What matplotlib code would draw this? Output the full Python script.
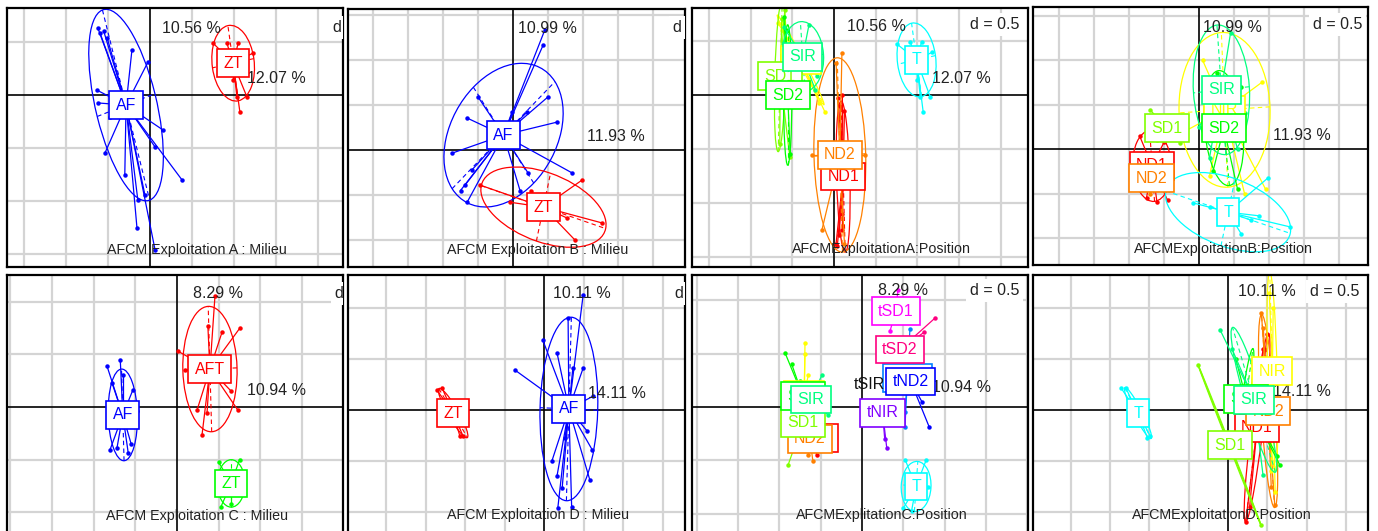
import numpy as np
import matplotlib
matplotlib.use("Agg")
import matplotlib.pyplot as plt
from matplotlib.patches import Ellipse

plt.rcParams["font.family"] = ["Liberation Sans", "DejaVu Sans"]

# ---- colours (R rainbow palette used by ade4 s.class) ----
RED, ORANGE, YELLOW, CHART = "#FF0000", "#FF8000", "#FFFF00", "#80FF00"
GREEN, SPRING, CYAN, AZURE = "#00FF00", "#00FF80", "#00FFFF", "#0080FF"
BLUE, VIOLET, MAGENTA, ROSE = "#0000FF", "#8000FF", "#FF00FF", "#FF0080"

# ---- Exploitation A : Milieu ----
A_MIL_LABELS = ["AF", "ZT"]
A_MIL_CX = [-0.57, 1.98]
A_MIL_CY = [-0.19, 0.60]
A_MIL_A = [1.88, 0.72]
A_MIL_B = [0.72, 0.50]
A_MIL_ANG = [-72.6, 100]
A_MIL_PX = [[-1.24, -1.19, -1.02, -0.43, -0.05, -1.26, -1.24, -1.07, 0.31, 0.12, 0.76,
             -0.31, 0.12, -0.95, -0.29, -0.12, -1.10, -0.60],
            [1.50, 1.83, 2.10, 2.45, 2.07, 2.14, 2.31, 1.98]]
A_MIL_PY = [[1.26, 1.17, 1.08, 0.85, 0.62, 0.09, -0.15, -1.09, -0.66, -0.98, -1.60,
             -2.51, -2.92, -0.42, -1.98, -1.89, 1.20, -1.50],
            [0.98, 0.98, 0.98, 0.79, -0.04, -0.32, -0.04, 0.28]]

# ---- Exploitation B : Milieu ----
B_MIL_LABELS = ["AF", "ZT"]
B_MIL_CX = [-0.27, 0.87]
B_MIL_CY = [0.33, -1.27]
B_MIL_A = [1.89, 1.84]
B_MIL_B = [1.37, 0.78]
B_MIL_ANG = [39, -15]
B_MIL_PX = [[0.91, 0.86, -1.31, 1.26, -1.74, -1.37, -1.31, 1.69, 1.00, 0.40, -1.00, -1.17,
             0.43, -0.03, -1.50, 0.20],
            [-0.94, -0.09, 1.97, 1.77, 1.54, 1.29, 2.54, 0.50]]
B_MIL_PY = [[2.67, 2.33, 0.71, 0.62, -0.07, -0.78, -1.16, -0.51, 1.18, 0.84, 1.18, -0.44,
             -0.51, 0.84, -0.90, -0.90],
            [-0.78, -1.16, -0.67, -2.00, -1.51, -1.40, -1.62, -0.90]]

# ---- Exploitation A : Position ----
A_POS_LABELS = ["ND1", "ND2", "NIR", "SD1", "SD2", "SIR", "T"]
A_POS_CX = [0.22, 0.14, -0.80, -1.29, -1.11, -0.75, 1.98]
A_POS_CY = [-1.51, -1.11, 0.65, 0.35, 0.00, 0.71, 0.65]
A_POS_A = [1.40, 1.80, 1.00, 1.40, 1.30, 0.65, 0.69]
A_POS_B = [0.16, 0.62, 0.06, 0.13, 0.10, 0.50, 0.46]
A_POS_ANG = [92, 92, -56, 88, 90, 95, 100]
A_POS_PX = [[0.10, 0.15, 0.20, 0.25, 0.05, 0.12, 0.20, 0.08, 0.18],
            [0.19, -0.29, -0.53, 0.74, 0.05, 0.25],
            [-1.34, -1.25, -0.22, -0.35],
            [-1.18, -1.06, -1.25, -1.30],
            [-1.20, -1.05, -1.15],
            [-1.20, -0.45, -0.40, -1.10, -0.60],
            [1.50, 1.83, 2.10, 2.35, 2.07, 2.14, 2.31, 1.98]]
A_POS_PY = [[-0.05, -0.20, 0.00, -0.30, -2.75, -2.60, -2.50, -2.80, -2.20],
            [0.78, -2.50, -1.11, -1.11, 0.60, -2.75],
            [1.33, 1.20, -0.31, -0.15],
            [1.57, -1.15, 1.40, -0.90],
            [1.45, -1.10, 1.20],
            [1.25, 0.10, 0.35, 0.20, 1.30],
            [0.95, 0.98, 0.98, 0.79, -0.04, -0.32, -0.04, 0.28]]

# ---- Exploitation B : Position ----
B_POS_LABELS = ["ND1", "ND2", "NIR", "SD1", "SD2", "SIR", "T"]
B_POS_CX = [-1.34, -1.36, 0.73, -0.91, 0.71, 0.64, 0.83]
B_POS_CY = [-0.38, -0.66, 0.88, 0.47, 0.47, 1.33, -1.42]
B_POS_A = [0.80, 0.30, 1.74, 0.45, 1.30, 1.46, 1.84]
B_POS_B = [0.55, 0.20, 1.30, 0.12, 0.55, 0.80, 0.78]
B_POS_ANG = [95, 90, 93, 40, 97, 95, -15]
B_POS_PX = [[-1.70, -1.20, -0.90, -1.50, -1.00, -1.80],
            [-1.60, -1.10, -1.40],
            [0.10, 1.80, 1.90, -0.40, 0.30, 1.30],
            [-1.40, -0.54, -1.20, -0.70],
            [0.50, 1.10, 0.40, 1.20, 0.20],
            [0.90, 0.75, 0.00, 1.30, 0.30, 1.10],
            [1.97, -0.17, 2.60, 1.49, 1.20, 0.30, 1.70]]
B_POS_PY = [[0.30, -1.20, -1.15, -1.10, 0.15, -0.50],
            [-0.90, -0.50, -1.00],
            [2.00, 1.50, -0.90, 0.40, -0.60, -1.00],
            [0.88, 0.13, 0.20, 0.30],
            [1.70, -0.90, -0.50, 1.40, 0.20],
            [2.60, 1.50, 0.50, 0.80, -0.20, 0.00],
            [-0.65, -1.21, -1.75, -1.60, -1.90, -1.30, -1.50]]

# ---- Exploitation C : Milieu ----
C_MIL_LABELS = ["AF", "AFT", "ZT"]
C_MIL_CX = [-1.30, 0.79, 1.30]
C_MIL_CY = [-0.15, 0.72, -1.45]
C_MIL_A = [0.87, 1.19, 0.45]
C_MIL_B = [0.35, 0.65, 0.33]
C_MIL_ANG = [92, 92, 90]
C_MIL_PX = [[-1.68, -1.36, -1.56, -1.06, -1.61, -1.44, -1.17, -0.96, -1.30, -1.10],
            [0.91, 0.74, 1.51, 0.02, 0.48, 0.60, 1.46, 1.08, 0.72, 0.20, 1.30],
            [1.00, 1.50, 1.60, 1.05, 1.30]]
C_MIL_PY = [[0.78, 0.89, 0.46, 0.32, -0.82, -0.78, -0.87, -0.08, 0.60, -0.70],
            [2.10, 1.54, 1.50, 1.06, -0.06, -0.53, -0.06, 1.42, -0.11, 0.70, 0.30],
            [-1.05, -1.00, -1.30, -1.90, -1.85]]

# ---- Exploitation D : Milieu ----
D_MIL_LABELS = ["AF", "ZT"]
D_MIL_CX = [0.63, -2.30]
D_MIL_CY = [0.02, -0.06]
D_MIL_A = [1.80, 0.60]
D_MIL_B = [0.73, 0.12]
D_MIL_ANG = [88, -53]
D_MIL_PX = [[0.99, -0.73, -0.03, 0.33, 0.99, 0.73, 1.22, 1.16, 1.09, 0.33, 0.46, 0.35,
             0.61, 1.24, 0.53, 0.70, 0.20],
            [-2.71, -2.58, -2.05, -2.13]]
D_MIL_PY = [[2.25, 0.78, 1.37, 1.12, 0.82, 0.82, -0.78, -1.37, -0.41, -1.29, -1.53, -1.92,
             1.80, 0.27, -0.55, -1.90, -1.00],
            [0.39, 0.43, -0.51, -0.51]]

# ---- Exploitation C : Position ----
C_POS_LABELS = ["ND1", "ND2", "NIR", "SD1", "SD2", "SIR", "T",
                "tND1", "tND2", "tNIR", "tSD1", "tSD2", "tSIR"]
C_POS_CX = [-1.13, -1.26, -1.40, -1.43, -1.43, -1.24, 1.31, 1.10, 1.18, 0.50, 0.82, 0.92, 0.19]
C_POS_CY = [-0.58, -0.60, 0.22, -0.30, 0.20, 0.14, -1.49, 0.55, 0.48, -0.11, 1.80, 1.08, 0.42]
C_POS_A = [0.10, 0.10, 0.10, 0.10, 0.10, 0.10, 0.47, 0.10, 0.10, 0.10, 0.10, 0.10, 0.0]
C_POS_B = [0.04, 0.04, 0.04, 0.04, 0.04, 0.04, 0.36, 0.04, 0.04, 0.04, 0.04, 0.04, 0.0]
C_POS_ANG = [90, 90, 90, 90, 90, 90, 85, 90, 90, 90, 90, 90, 90]
C_POS_PX = [[-1.00, -1.10], [-1.19, -1.30], [-1.38, -1.38, -1.30], [-1.79, -1.60],
            [-1.86, -1.70, -1.50], [-0.97, -0.82], [1.05, 1.55, 1.60, 1.00, 1.20],
            [1.04, 1.04, 1.16], [1.63, 1.45], [0.60, 0.55], [0.68, 0.87], [1.77, 1.50], [0.19]]
C_POS_PY = [[-0.40, -0.90], [-1.01, -0.90], [1.20, 1.00, 0.60], [-1.09, -0.80],
            [1.01, 0.80, 0.49], [0.60, -0.15], [-1.00, -1.00, -1.50, -1.90, -1.95],
            [-0.38, -0.10, 1.46], [-0.38, 0.10], [-0.77, -0.60], [1.43, 2.20], [1.67, 1.40], [0.42]]

# ---- Exploitation D : Position ----
D_POS_LABELS = ["ND1", "ND2", "NIR", "SD1", "SD2", "SIR", "T"]
D_POS_CX = [0.74, 1.02, 1.13, 0.04, 0.46, 0.66, -2.29]
D_POS_CY = [-0.35, -0.02, 0.76, -0.69, 0.22, 0.20, -0.06]
D_POS_A = [1.87, 1.90, 1.95, 1.75, 1.00, 1.52, 0.60]
D_POS_B = [0.15, 0.18, 0.12, 0.02, 0.10, 0.22, 0.10]
D_POS_ANG = [81, 95, 92, -63, 80, 111, -56]
D_POS_PX = [[1.00, 0.90, 0.45, 0.55], [0.85, 0.90, 1.19, 1.10], [1.05, 1.15, 1.20, 1.10],
            [-0.76, 0.84], [1.32, 0.20, 1.25], [-0.20, 0.89, 0.10, 0.50],
            [-2.72, -2.60, -1.98, -2.05]]
D_POS_PY = [[1.50, 1.20, -2.20, -1.90], [1.90, 1.60, -1.87, -1.50], [2.30, 2.00, -1.60, -1.20],
            [0.88, -2.25], [-1.08, 1.00, -0.90], [1.57, -1.27, 1.20, -0.90],
            [0.43, 0.43, -0.51, -0.55]]

PCT_TOP = ["10.56 %", "10.99 %", "10.56 %", "10.99 %", "8.29 %", "10.11 %", "8.29 %", "10.11 %"]
PCT_RIGHT = ["12.07 %", "11.93 %", "12.07 %", "11.93 %", "10.94 %", "14.11 %", "10.94 %", "14.11 %"]
SUBTITLES = ["AFCM Exploitation A : Milieu", "AFCM Exploitation B : Milieu",
             "AFCMExploitationA:Position", "AFCMExploitationB:Position",
             "AFCM Exploitation C : Milieu", "AFCM Exploitation D : Milieu",
             "AFCMExplitationC:Position", "AFCMExploitationD:Position"]

PANELS = [
    (A_MIL_LABELS, [BLUE, RED], A_MIL_CX, A_MIL_CY, A_MIL_A, A_MIL_B, A_MIL_ANG, A_MIL_PX, A_MIL_PY),
    (B_MIL_LABELS, [BLUE, RED], B_MIL_CX, B_MIL_CY, B_MIL_A, B_MIL_B, B_MIL_ANG, B_MIL_PX, B_MIL_PY),
    (A_POS_LABELS, [RED, ORANGE, YELLOW, CHART, GREEN, SPRING, CYAN],
     A_POS_CX, A_POS_CY, A_POS_A, A_POS_B, A_POS_ANG, A_POS_PX, A_POS_PY),
    (B_POS_LABELS, [RED, ORANGE, YELLOW, CHART, GREEN, SPRING, CYAN],
     B_POS_CX, B_POS_CY, B_POS_A, B_POS_B, B_POS_ANG, B_POS_PX, B_POS_PY),
    (C_MIL_LABELS, [BLUE, RED, GREEN], C_MIL_CX, C_MIL_CY, C_MIL_A, C_MIL_B, C_MIL_ANG, C_MIL_PX, C_MIL_PY),
    (D_MIL_LABELS, [BLUE, RED], D_MIL_CX, D_MIL_CY, D_MIL_A, D_MIL_B, D_MIL_ANG, D_MIL_PX, D_MIL_PY),
    (C_POS_LABELS, [RED, ORANGE, YELLOW, CHART, GREEN, SPRING, CYAN, AZURE, BLUE, VIOLET,
                    MAGENTA, ROSE, "#000000"],
     C_POS_CX, C_POS_CY, C_POS_A, C_POS_B, C_POS_ANG, C_POS_PX, C_POS_PY),
    (D_POS_LABELS, [RED, ORANGE, YELLOW, CHART, GREEN, SPRING, CYAN],
     D_POS_CX, D_POS_CY, D_POS_A, D_POS_B, D_POS_ANG, D_POS_PX, D_POS_PY),
]

# layout: panel box in pixels (x0, y0, x1, y1), origin pixel, pixels per grid unit
LAYOUT = [
    ((7, 8, 343, 267), (150, 95), (42.0, 53.0)),
    ((348, 9, 685, 267), (513, 150), (35.0, 45.0)),
    ((692, 8, 1028, 267), (834, 95), (41.7, 54.0)),
    ((1033, 7, 1368, 265), (1199, 149), (35.0, 44.5)),
    ((7, 275, 343, 540), (177, 407), (41.7, 52.7)),
    ((348, 275, 685, 540), (544, 410), (39.5, 51.0)),
    ((692, 275, 1028, 540), (862, 407), (41.3, 53.3)),
    ((1033, 275, 1368, 540), (1228, 410), (39.3, 51.0)),
]
# text anchor positions in grid units: top %, right %, d label, subtitle
TEXT_POS = [
    ((0.29, 1.26), (2.31, 0.32), (4.36, 1.28), (1.12, -2.92)),
    ((0.14, 2.71), (2.11, 0.29), (4.57, 2.73), (0.71, -2.22)),
    ((0.31, 1.26), (2.35, 0.31), (3.26, 1.30), (1.15, -2.85)),
    ((0.11, 2.74), (2.11, 0.31), (3.26, 2.79), (0.69, -2.25)),
    ((0.38, 2.16), (1.68, 0.32), (3.79, 2.16), (0.48, -2.07)),
    ((0.23, 2.29), (1.11, 0.33), (3.32, 2.29), (-0.15, -2.06)),
    ((0.39, 2.18), (1.69, 0.36), (2.61, 2.18), (0.48, -2.03)),
    ((0.25, 2.33), (1.15, 0.37), (2.09, 2.33), (-0.15, -2.06)),
]

FS_LAB = 11.5
FS_SUB = 10.3

W, H = 1378, 531
fig = plt.figure(figsize=(W / 100, H / 100), dpi=100)

for k, (data, lay, tpos) in enumerate(zip(PANELS, LAYOUT, TEXT_POS)):
    labels, colors, cx, cy, ea, eb, eang, pxs, pys = data
    (x0, y0, x1, y1), (ox, oy), (sx, sy) = lay
    ax = fig.add_axes([x0 / W, 1 - y1 / H, (x1 - x0) / W, (y1 - y0) / H])
    xlim = ((x0 - ox) / sx, (x1 - ox) / sx)
    ylim = ((oy - y1) / sy, (oy - y0) / sy)
    ax.set_xlim(xlim)
    ax.set_ylim(ylim)
    ax.set_xticks([])
    ax.set_yticks([])
    for s in ax.spines.values():
        s.set_linewidth(1.6)
        s.set_color("black")

    for gx in range(int(np.ceil(xlim[0])), int(np.floor(xlim[1])) + 1):
        if gx != 0:
            ax.axvline(gx, color="#d4d4d4", lw=1.6, zorder=0)
    for gy in range(int(np.ceil(ylim[0])), int(np.floor(ylim[1])) + 1):
        if gy != 0:
            ax.axhline(gy, color="#d4d4d4", lw=1.6, zorder=0)
    ax.axvline(0, color="black", lw=1.2, zorder=1)
    ax.axhline(0, color="black", lw=1.2, zorder=1)

    # ellipses and stars
    for i in range(len(labels)):
        col = colors[i]
        if col == "#000000":
            continue
        ax.add_patch(Ellipse((cx[i], cy[i]), 2 * ea[i], 2 * eb[i], angle=eang[i],
                             fill=False, ec=col, lw=0.9, zorder=2))
        t = np.deg2rad(eang[i])
        ux, uy = np.cos(t), np.sin(t)
        ax.plot([cx[i] - ea[i] * ux, cx[i] + ea[i] * ux], [cy[i] - ea[i] * uy, cy[i] + ea[i] * uy],
                color=col, lw=0.8, ls=(0, (4, 3)), zorder=2)
        ax.plot([cx[i] + eb[i] * uy, cx[i] - eb[i] * uy], [cy[i] - eb[i] * ux, cy[i] + eb[i] * ux],
                color=col, lw=0.8, ls=(0, (4, 3)), zorder=2)
        for px, py in zip(pxs[i], pys[i]):
            ax.plot([cx[i], px], [cy[i], py], color=col, lw=0.9, zorder=2)
        ax.plot(pxs[i], pys[i], ls="none", marker="o", ms=2.2, color=col, zorder=2)

    # class labels
    for i in range(len(labels)):
        col = colors[i]
        if col == "#000000":
            ax.text(cx[i], cy[i], labels[i], ha="center", va="center", fontsize=FS_LAB,
                    color="#111111", zorder=5)
        else:
            ax.text(cx[i], cy[i], labels[i], ha="center", va="center", fontsize=FS_LAB,
                    color=col, zorder=5,
                    bbox=dict(boxstyle="square,pad=0.4", fc="white", ec=col, lw=1.2))

    (tx, ty), (rx, ry), (dx, dy), (bx, by) = tpos
    ax.text(tx, ty, PCT_TOP[k], ha="left", va="center", fontsize=FS_LAB, color="#222222", zorder=4)
    ax.text(rx, ry, PCT_RIGHT[k], ha="left", va="center", fontsize=FS_LAB, color="#222222", zorder=4)
    ax.text(dx, dy, "d = 0.5", ha="left", va="center", fontsize=FS_LAB, color="#222222", zorder=6,
            clip_on=True, bbox=dict(boxstyle="square,pad=0.25", fc="white", ec="none"))
    ax.text(bx, by, SUBTITLES[k], ha="center", va="center", fontsize=FS_SUB, color="#222222",
            zorder=4)

fig.savefig("out.png", dpi=100)
